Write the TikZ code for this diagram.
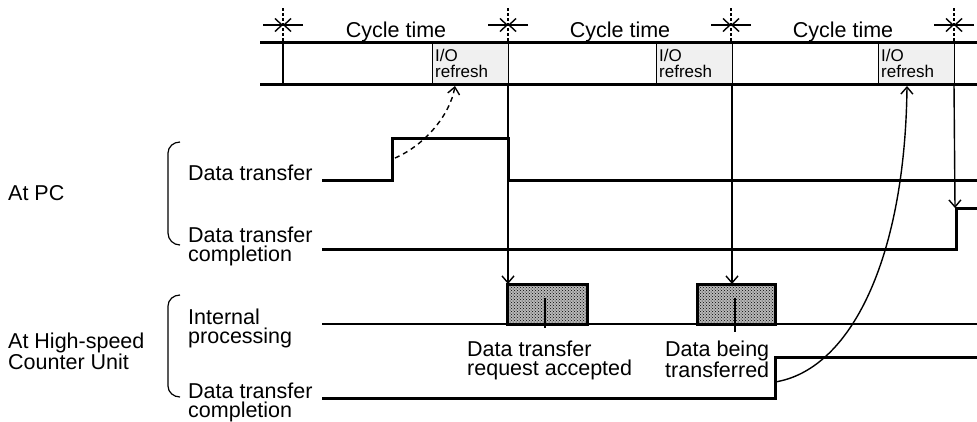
\documentclass[tikz,border=0pt]{standalone}
\usepackage{fontspec}
\setmainfont{Liberation Sans}
\usetikzlibrary{arrows.meta,patterns}
\newcommand\twoline[2]{\vtop{\hbox{#1}\hbox{#2}}}
\tikzset{
  sig/.style={line width=3pt, line join=miter},
  thinl/.style={line width=1.4pt},
  lbl/.style={font=\fontsize{21.5}{19.5}\selectfont, inner sep=0pt, anchor=base west},
  toplbl/.style={font=\fontsize{21.5}{19.5}\selectfont, inner sep=0pt, anchor=base},
  iotext/.style={font=\fontsize{17}{16}\selectfont, inner sep=0pt, anchor=base west},
  tip/.style={-{Straight Barb[length=7pt,width=12pt]}},
  procbox/.style={draw, line width=3pt, fill=black!28, postaction={pattern=crosshatch dots, pattern color=black}, inner sep=0pt, outer sep=0pt, minimum width=80pt, minimum height=40pt, anchor=south west},
  iobox/.style={draw, line width=0.9pt, fill=black!6, inner sep=0pt, outer sep=0pt, minimum width=76pt, minimum height=42pt, anchor=north west},
  bracket/.style={line width=1.2pt},
}
\begin{document}
\begin{tikzpicture}[x=1pt,y=-1pt]
\useasboundingbox (0,0) rectangle (977,421);

% cycle markers
\foreach \i/\x in {1/283,2/508,3/731,4/954}{
  \coordinate (m\i) at (\x,25);
  \coordinate (mt\i) at (\x,8);
  \coordinate (mb\i) at (\x,42);
  \coordinate (ml\i) at (\x-20,25);
  \coordinate (mr\i) at (\x+20,25);
  \draw[thinl, dash pattern=on 3pt off 2pt] (mt\i) -- (mb\i);
  \draw[thinl, -{Straight Barb[length=7pt,width=13pt]}] (ml\i) -- (m\i);
  \draw[thinl, -{Straight Barb[length=7pt,width=13pt]}] (mr\i) -- (m\i);
}
\node[toplbl] (ct1) at (396,37) {Cycle time};
\node[toplbl] (ct2) at (620,37) {Cycle time};
\node[toplbl] (ct3) at (843,37) {Cycle time};

% I/O refresh boxes
\node[iobox] (io1) at (432,42) {};
\node[iobox] (io2) at (656,42) {};
\node[iobox] (io3) at (878,42) {};
\node[iotext] (iot1) at (435,61) {\twoline{I/O}{refresh}};
\node[iotext] (iot2) at (659,61) {\twoline{I/O}{refresh}};
\node[iotext] (iot3) at (881,61) {\twoline{I/O}{refresh}};

% top band
\coordinate (bandTL) at (260,42);
\coordinate (bandTR) at (977,42);
\coordinate (bandBL) at (260,84);
\coordinate (bandBR) at (977,84);
\draw[sig] (bandTL) -- (bandTR);
\draw[sig] (bandBL) -- (bandBR);
\draw[thinl] (mb1) -- (283,84);

% left labels
\node[lbl] (atpc) at (8,200) {At PC};
\node[lbl] (athsc) at (8,348) {\twoline{At High-speed}{Counter Unit}};
\draw[bracket] (180,142) to[out=180,in=90] (168,153) -- (168,233) to[out=-90,in=180] (180,245);
\draw[bracket] (180,295) to[out=180,in=90] (168,306) -- (168,386) to[out=-90,in=180] (180,397);
\node[lbl] (ldt) at (188,180) {Data transfer};
\node[lbl] (ldtc) at (188,242) {\twoline{Data transfer}{completion}};
\node[lbl] (lip) at (188,324) {\twoline{Internal}{processing}};
\node[lbl] (lhdtc) at (188,398) {\twoline{Data transfer}{completion}};

% PC signals
\draw[sig] (322,180) -- (392,180) -- (392,138) -- (508,138) -- (508,180) -- (977,180);
\draw[sig] (322,249) -- (956,249) -- (956,208) -- (977,208);

% HSC internal processing
\node[procbox] (pb1) at (507,324) {};
\node[procbox, minimum width=78pt] (pb2) at (697,324) {};
\draw[sig, line width=2.3pt] (322,324) -- (977,324);

% HSC completion
\draw[sig] (322,398) -- (775,398) -- (775,357) -- (977,357);

% labels under boxes
\node[lbl] (lacc) at (467,356) {\twoline{Data transfer}{request accepted}};
\node[lbl] (lbeing) at (665,356) {\twoline{Data being}{transferred}};
\draw[thinl] (545,298) -- (545,328);
\draw[thinl] (735,298) -- (735,332);

% arrows
\draw[thinl, tip] (io1.south east) -- (io1.south east |- pb1.north);
\draw[thinl, tip] (io2.south east) -- (io2.south east |- pb2.north);
\coordinate (pcup) at (955,208);
\draw[thinl, tip] (io3.south east) -- (pcup);
\coordinate (dstart) at (395,158);
\coordinate (dend) at (455,86);
\draw[line width=1.4pt, dash pattern=on 5pt off 4pt, tip] (dstart) .. controls (425,145) and (450,115) .. (dend);
\coordinate (cstart) at (775,382);
\coordinate (cend) at (907,86);
\draw[thinl, tip] (cstart) .. controls (850,370) and (905,260) .. (cend);
\end{tikzpicture}
\end{document}
